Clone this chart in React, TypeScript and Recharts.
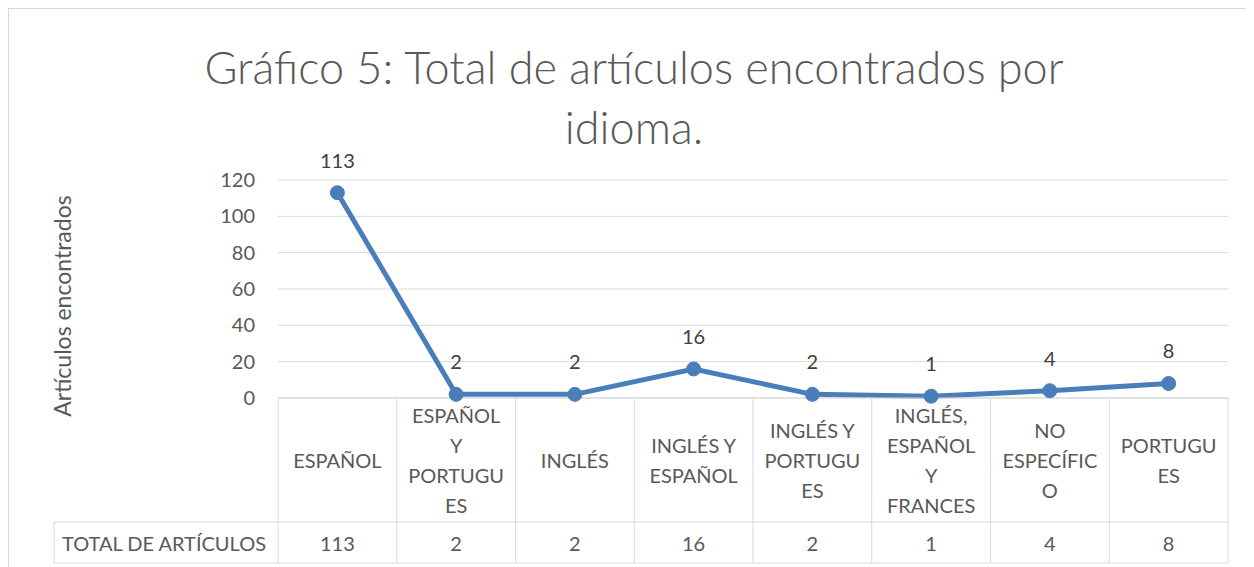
import React from 'react';
import { LineChart, Line, XAxis, YAxis, CartesianGrid, LabelList } from 'recharts';

// category labels as they appear wrapped in the data table
const categories = [
  'ESPAÑOL',
  'ESPAÑOL\nY\nPORTUGU\nES',
  'INGLÉS',
  'INGLÉS Y\nESPAÑOL',
  'INGLÉS Y\nPORTUGU\nES',
  'INGLÉS,\nESPAÑOL\nY\nFRANCES',
  'NO\nESPECÍFIC\nO',
  'PORTUGU\nES',
];
const totals = [113, 2, 2, 16, 2, 1, 4, 8];
const yTicks = [0, 20, 40, 60, 80, 100, 120];
const seriesName = 'TOTAL DE ARTÍCULOS';

const data = categories.map((c, i) => ({ name: c, total: totals[i] }));

const FONT = 'Lato, "Open Sans", sans-serif';
const GRAY = '#595959';
const GRID = '#d9d9d9';
const BLUE = '#4a7ebb';

const CHART_W = 1245;
const CHART_H = 560;
const PLOT_LEFT = 269;
const PLOT_RIGHT = 1219;
const PLOT_TOP = 171;
const PLOT_H = 218;
const HEAD_H = 124;
const ROW_H = 41;
const LABEL_CELL_LEFT = 45;
const BAND = (PLOT_RIGHT - PLOT_LEFT) / categories.length;
const ROW_TOP = PLOT_TOP + PLOT_H;
const LINE_H = 29.7;
const CELL_FONT = 20;

const TableTick = (props: any) => {
  const { payload, index } = props;
  const cx = payload.coordinate;
  const left = cx - BAND / 2;
  const right = cx + BAND / 2;
  const bottom = ROW_TOP + HEAD_H + ROW_H;
  const lines = String(payload.value).split('\n');
  const midY = ROW_TOP + HEAD_H / 2;
  const startY = midY - ((lines.length - 1) * LINE_H) / 2;
  return (
    <g>
      <line x1={left} y1={ROW_TOP} x2={left} y2={bottom} stroke={GRID} />
      {index === categories.length - 1 && (
        <line x1={right} y1={ROW_TOP} x2={right} y2={bottom} stroke={GRID} />
      )}
      {index === 0 && (
        <g>
          <line x1={LABEL_CELL_LEFT} y1={ROW_TOP + HEAD_H} x2={left} y2={ROW_TOP + HEAD_H} stroke={GRID} />
          <line x1={LABEL_CELL_LEFT} y1={bottom} x2={left} y2={bottom} stroke={GRID} />
          <line x1={LABEL_CELL_LEFT} y1={ROW_TOP + HEAD_H} x2={LABEL_CELL_LEFT} y2={bottom} stroke={GRID} />
          <text x={LABEL_CELL_LEFT + 8} y={ROW_TOP + HEAD_H + ROW_H / 2} dominantBaseline="central"
            fontFamily={FONT} fontSize={CELL_FONT} fill={GRAY}>
            {seriesName}
          </text>
        </g>
      )}
      <line x1={left} y1={ROW_TOP + HEAD_H} x2={right} y2={ROW_TOP + HEAD_H} stroke={GRID} />
      <line x1={left} y1={bottom} x2={right} y2={bottom} stroke={GRID} />
      {lines.map((l, i) => (
        <text key={i} x={cx} y={startY + i * LINE_H} textAnchor="middle" dominantBaseline="central"
          fontFamily={FONT} fontSize={CELL_FONT} fill={GRAY}>
          {l}
        </text>
      ))}
      <text x={cx} y={ROW_TOP + HEAD_H + ROW_H / 2} textAnchor="middle" dominantBaseline="central"
        fontFamily={FONT} fontSize={CELL_FONT} fill={GRAY}>
        {totals[index]}
      </text>
    </g>
  );
};

export default function App() {
  return (
    <div style={{
      position: 'relative', width: 1246, height: 559, overflow: 'hidden',
      borderTop: `1px solid ${GRID}`, borderLeft: `1px solid ${GRID}`, boxSizing: 'border-box',
      background: '#fff', fontFamily: FONT,
    }}>
      <div style={{
        position: 'absolute', left: 0, top: 28, width: 1250, textAlign: 'center',
        fontSize: 45, lineHeight: '60px', color: GRAY, fontWeight: 300,
      }}>
        <div>Gráfico 5: Total de artículos encontrados por</div>
        <div>idioma.</div>
      </div>
      <div style={{
        position: 'absolute', left: 53, top: 297, width: 0, height: 0,
      }}>
        <div style={{
          position: 'absolute', transform: 'translate(-50%, -50%) rotate(-90deg)',
          whiteSpace: 'nowrap', fontSize: 23, color: GRAY,
        }}>
          Artículos encontrados
        </div>
      </div>
      <LineChart
        width={CHART_W}
        height={CHART_H}
        data={data}
        margin={{ top: PLOT_TOP, right: CHART_W - PLOT_RIGHT, bottom: CHART_H - ROW_TOP - 170, left: PLOT_LEFT - 60 }}
      >
        <CartesianGrid vertical={false} stroke={GRID} />
        <XAxis
          dataKey="name"
          interval={0}
          height={170}
          axisLine={{ stroke: GRID }}
          tickLine={false}
          padding={{ left: BAND / 2, right: BAND / 2 }}
          tick={(p: any) => <TableTick {...p} />}
        />
        <YAxis
          width={60}
          domain={[0, 120]}
          ticks={yTicks}
          axisLine={false}
          tickLine={false}
          tickMargin={17}
          tick={{ fontFamily: FONT, fontSize: 20, fill: GRAY }}
        />
        <Line
          type="linear"
          dataKey="total"
          stroke={BLUE}
          strokeWidth={5}
          dot={{ r: 7, fill: BLUE, stroke: BLUE, strokeWidth: 1 }}
          isAnimationActive={false}
        >
          <LabelList dataKey="total" position="top" offset={25}
            style={{ fontFamily: FONT, fontSize: 20, fill: '#404040' }} />
        </Line>
      </LineChart>
    </div>
  );
}
